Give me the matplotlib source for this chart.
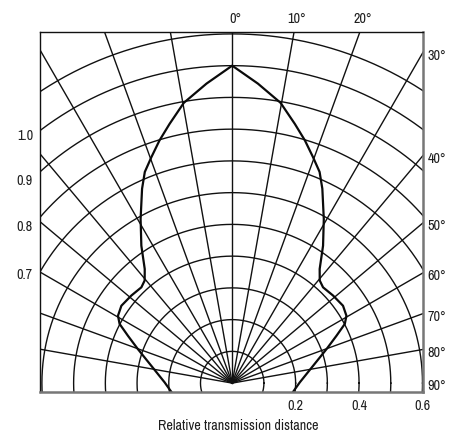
import numpy as np
import matplotlib
matplotlib.use("Agg")
import matplotlib.pyplot as plt
from matplotlib.transforms import offset_copy

# ---------------- data ----------------
# lobe: angle from the forward axis (deg) and relative transmission distance (one side, symmetric)
lobe_angle_deg = [0, 4.9, 9.8, 13.6, 16.7, 19.7, 22.5, 24.9, 29.2, 33.5, 37.5, 40.5,
                  43.5, 49.1, 55.1, 59.5, 62.3, 65.6, 70.2, 77.9, 89.4, 98.1]
lobe_radius = [1.00, 0.947, 0.896, 0.840, 0.798, 0.756, 0.720, 0.675, 0.592, 0.519, 0.453, 0.425,
               0.416, 0.421, 0.426, 0.418, 0.401, 0.361, 0.316, 0.261, 0.213, 0.194]

circle_radii = [0.1, 0.2, 0.3, 0.4, 0.5, 0.6, 0.7, 0.8, 0.9, 1.0, 1.1]
spoke_angles = [-80, -70, -60, -50, -40, -30, -20, -10, 0, 10, 20, 30, 40, 50, 60, 70, 80]

top_angles = [0, 10, 20]
top_labels = ["0°", "10°", "20°"]
right_angles = [30, 40, 50, 60, 70, 80, 90]
right_labels = ["30°", "40°", "50°", "60°", "70°", "80°", "90°"]
left_labels = ["1.0", "0.9", "0.8", "0.7"]
bottom_ticks = [0.2, 0.4, 0.6]
bottom_labels = ["0.2", "0.4", "0.6"]
xlabel_text = "Relative transmission distance"

# ---------------- layout ----------------
FONT = ["Archivo Narrow", "Liberation Sans", "DejaVu Sans"]
plt.rcParams["font.family"] = FONT
FS = 10.2
TXT = "#1e1e1e"
XL, XR = -0.606, 0.600
YB, YT = -0.028, 1.106
left_label_y = [0.780, 0.640, 0.495, 0.344]

fig = plt.figure(figsize=(4.57, 4.39), dpi=100)
ax = fig.add_axes([40 / 457, 46 / 439, 382.5 / 457, 360 / 439])
ax.set_xlim(XL, XR)
ax.set_ylim(YB, YT)

# circles
t = np.linspace(0, 2 * np.pi, 721)
for r in circle_radii:
    ax.plot(r * np.cos(t), r * np.sin(t), color="#111111", lw=1.0, clip_on=True)

# spokes
for a in spoke_angles:
    ar = np.radians(a)
    ax.plot([0, 2 * np.sin(ar)], [0, 2 * np.cos(ar)], color="#111111", lw=1.0)

# lobe (mirror right side to left)
ang = np.radians(np.array(lobe_angle_deg))
rad = np.array(lobe_radius)
full_ang = np.concatenate([-ang[::-1], ang[1:]])
full_rad = np.concatenate([rad[::-1], rad[1:]])
ax.plot(full_rad * np.sin(full_ang), full_rad * np.cos(full_ang), color="#0a0a0a", lw=1.6,
        solid_joinstyle="round")

# frame
for s in ["top", "left"]:
    ax.spines[s].set_color("#111111")
    ax.spines[s].set_linewidth(1.0)
for s in ["right", "bottom"]:
    ax.spines[s].set_color("#777777")
    ax.spines[s].set_linewidth(1.8)

ax.set_yticks([])
ax.set_xticks(bottom_ticks)
ax.set_xticklabels(bottom_labels, fontsize=FS, color=TXT)
ax.tick_params(axis="x", length=0, pad=4)

# top labels
for a, lab in zip(top_angles, top_labels):
    x = YT * np.tan(np.radians(a))
    tr = offset_copy(ax.transData, fig=fig, x=3, y=7, units="dots")
    ax.text(x, YT, lab, transform=tr, ha="center", va="bottom", fontsize=FS, color=TXT, clip_on=False)

# right labels
for a, lab in zip(right_angles, right_labels):
    y = XR / np.tan(np.radians(a)) if a < 90 else 0.0
    tr = offset_copy(ax.transData, fig=fig, x=5, y=-2, units="dots")
    ax.text(XR, y, lab, transform=tr, ha="left", va="center", fontsize=FS, color=TXT, clip_on=False)

# left labels
for y, lab in zip(left_label_y, left_labels):
    tr = offset_copy(ax.transData, fig=fig, x=-7, y=0, units="dots")
    ax.text(XL, y, lab, transform=tr, ha="right", va="center", fontsize=FS, color=TXT, clip_on=False)

fig.text(238.5 / 457, 1 - 426 / 439, xlabel_text, ha="center", va="center", fontsize=FS, color=TXT)

fig.savefig("out.png", dpi=100)
